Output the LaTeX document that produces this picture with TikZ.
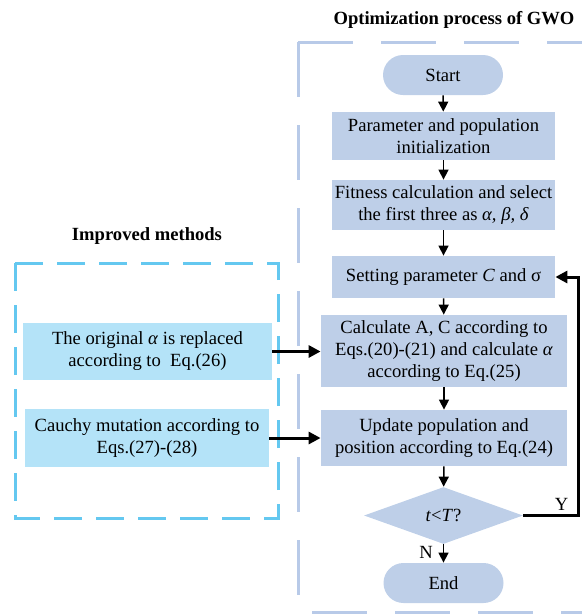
\documentclass[tikz,border=0pt]{standalone}
\usepackage{fontspec}
\setmainfont{Liberation Serif}
\usetikzlibrary{shapes.geometric,arrows.meta}
\definecolor{flowfill}{RGB}{190,207,232}
\definecolor{flowdash}{RGB}{184,202,232}
\definecolor{impfill}{RGB}{180,227,248}
\definecolor{impdash}{RGB}{100,200,240}

\begin{document}
\begin{tikzpicture}[x=0.5pt, y=-0.5pt,
  every node/.style = {font=\fontsize{9.3}{11}\selectfont, align=center, inner sep=0pt},
  proc/.style = {fill=flowfill, minimum width=111.5pt, minimum height=24pt},
  wide/.style = {proc, minimum width=123pt},
  term/.style = {fill=flowfill, rounded corners=10pt, minimum width=60pt, minimum height=20pt},
  cond/.style = {diamond, aspect=2.8, fill=flowfill, minimum width=79.5pt, minimum height=28.5pt},
  impbox/.style = {fill=impfill, minimum height=28.5pt},
  heading/.style = {font=\fontsize{9.3}{11}\selectfont\bfseries},
  flow/.style = {-{Triangle[length=5pt,width=5pt]}, line width=0.75pt},
  feed/.style = {-{Triangle[length=6pt,width=6pt]}, line width=1.5pt}
  ]
  \useasboundingbox (0,0) rectangle (582,616);
  % frames
  \draw[flowdash, line width=1.5pt, dash pattern=on 27.5pt off 14pt]
    (298,42) -- (582,42) (298,42) -- (298,616) (312,612) -- (582,612);
  \draw[impdash, line width=1.5pt, dash pattern=on 14pt off 7pt]
    (15,263) rectangle (278,518);
  \node[heading] (gwotitle) at (454,20) {Optimization process of GWO};
  \node[heading] (imptitle) at (147,236) {Improved methods};
  % GWO steps
  \node[term] (start) at (443,75) {Start};
  \node[proc] (init) at (443.5,136) {Parameter and population\\initialization};
  \node[proc, minimum height=25pt] (fit) at (443.5,205) {Fitness calculation and select\\the first three as \textit{α, β, δ}};
  \node[proc, minimum height=21pt] (param) at (443.5,277) {Setting parameter \textit{C} and σ};
  \node[wide, minimum height=36pt] (calc) at (444,351) {Calculate A, C according to\\Eqs.(20)-(21) and calculate \textit{α}\\according to Eq.(25)};
  \node[wide, minimum height=28pt] (update) at (444,438) {Update population and\\position according to Eq.(24)};
  \node[cond] (check) at (443.5,515.5) {\textit{t}<\textit{T}?};
  \node[term] (finish) at (443.5,583) {End};
  \coordinate (loop) at (578,515.5);
  % improvements
  \node[impbox, minimum width=124.5pt] (replace) at (147.5,351.5) {The original \textit{α} is replaced\\according to~~Eq.(26)};
  \node[impbox, minimum width=122pt, minimum height=29pt] (cauchy) at (147,438) {Cauchy mutation according to\\Eqs.(27)-(28)};

  \draw[flow] (start) -- (init);
  \draw[flow] (init) -- (fit);
  \draw[flow] (fit) -- (param);
  \draw[flow] (param) -- (calc);
  \draw[flow] (calc) -- (update);
  \draw[flow] (update) -- (check);
  \draw[flow] (check) -- node[left=5pt, pos=0.45] {N} (finish);
  \draw[feed] (check.east) -- node[above=2pt, pos=0.7] {Y} (loop) |- (param.east);
  \draw[feed] (replace.east) -- (calc.west |- replace.east);
  \draw[feed] (cauchy.east) -- (update.west |- cauchy.east);
\end{tikzpicture}
\end{document}
